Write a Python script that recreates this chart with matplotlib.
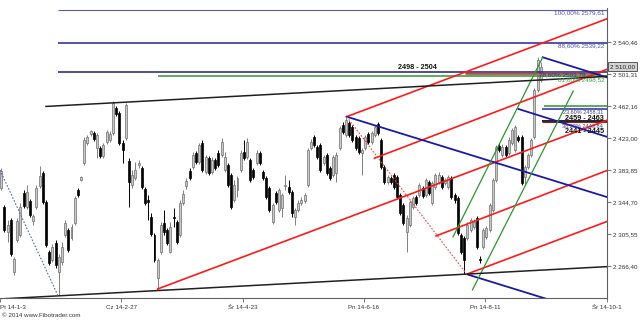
import numpy as np
import matplotlib
matplotlib.use("Agg")
import matplotlib.pyplot as plt

plt.rcParams['font.family'] = ['Liberation Sans', 'DejaVu Sans']

# WIG20 daily candles (price units)
opens = [2362, 2339, 2308, 2323, 2260, 2299, 2305, 2356, 2339, 2346, 2322, 2339, 2365, 2380, 2345, 2284, 2274, 2295, 2260, 2272,
         2305, 2311, 2301, 2319, 2360, 2372, 2393, 2417, 2428, 2429, 2411, 2411, 2401, 2418, 2421, 2429, 2460, 2454, 2417, 2423,
         2395, 2366, 2374, 2390, 2387, 2361, 2348, 2327, 2305, 2252, 2284, 2319, 2311, 2284, 2327, 2321, 2305, 2344, 2365, 2383,
         2388, 2405, 2394, 2417, 2382, 2399, 2382, 2396, 2405, 2402, 2384, 2390, 2378, 2348, 2360, 2384, 2406, 2400, 2396, 2384,
         2393, 2405, 2382, 2374, 2362, 2321, 2356, 2335, 2338, 2365, 2363, 2357, 2327, 2335, 2344, 2346, 2366, 2411, 2424, 2412,
         2415, 2393, 2402, 2387, 2378, 2380, 2411, 2439, 2427, 2441, 2437, 2424, 2423, 2405, 2411, 2428, 2418, 2427, 2440, 2421,
         2388, 2369, 2374, 2378, 2376, 2354, 2341, 2308, 2317, 2339, 2351, 2354, 2362, 2354, 2369, 2344, 2363, 2369, 2376, 2368,
         2363, 2374, 2354, 2350, 2305, 2301, 2301, 2311, 2315, 2326, 2276, 2290, 2302, 2311, 2335, 2372, 2413, 2402, 2412, 2405,
         2417, 2408, 2424, 2424, 2376, 2388, 2402, 2424, 2482, 2494]
highs = [2387, 2341, 2323, 2326, 2278, 2326, 2344, 2360, 2366, 2349, 2330, 2366, 2389, 2383, 2348, 2287, 2294, 2299, 2282, 2296,
         2323, 2313, 2318, 2352, 2362, 2377, 2424, 2427, 2433, 2432, 2429, 2413, 2417, 2433, 2432, 2468, 2462, 2456, 2421, 2466,
         2399, 2384, 2394, 2396, 2389, 2363, 2354, 2332, 2307, 2277, 2321, 2335, 2313, 2321, 2338, 2323, 2348, 2360, 2374, 2387,
         2406, 2407, 2417, 2421, 2402, 2401, 2400, 2399, 2409, 2423, 2406, 2393, 2380, 2372, 2377, 2409, 2421, 2423, 2399, 2387,
         2409, 2407, 2384, 2377, 2365, 2344, 2358, 2362, 2356, 2378, 2372, 2360, 2338, 2348, 2351, 2356, 2411, 2422, 2427, 2415,
         2417, 2402, 2405, 2389, 2402, 2406, 2438, 2443, 2449, 2444, 2439, 2427, 2426, 2411, 2427, 2431, 2432, 2439, 2443, 2423,
         2390, 2378, 2377, 2380, 2378, 2356, 2344, 2329, 2348, 2352, 2354, 2368, 2365, 2374, 2372, 2371, 2380, 2382, 2378, 2374,
         2378, 2377, 2356, 2352, 2307, 2304, 2321, 2326, 2324, 2328, 2279, 2313, 2316, 2344, 2374, 2415, 2417, 2416, 2415, 2424,
         2435, 2439, 2427, 2427, 2390, 2405, 2423, 2484, 2522, 2516]
lows = [2360, 2308, 2296, 2279, 2256, 2296, 2302, 2338, 2337, 2327, 2317, 2337, 2362, 2343, 2290, 2268, 2272, 2265, 2232, 2268,
        2302, 2284, 2299, 2317, 2351, 2371, 2390, 2415, 2426, 2420, 2399, 2399, 2399, 2416, 2418, 2427, 2450, 2415, 2393, 2421,
        2339, 2362, 2372, 2387, 2361, 2341, 2323, 2304, 2272, 2239, 2282, 2305, 2293, 2283, 2315, 2294, 2302, 2341, 2361, 2372,
        2385, 2391, 2391, 2382, 2379, 2378, 2379, 2384, 2388, 2400, 2382, 2363, 2337, 2345, 2351, 2382, 2396, 2398, 2370, 2373,
        2390, 2390, 2372, 2349, 2333, 2318, 2343, 2333, 2327, 2360, 2355, 2327, 2317, 2333, 2341, 2344, 2363, 2409, 2412, 2398,
        2382, 2390, 2378, 2372, 2376, 2369, 2409, 2428, 2424, 2424, 2418, 2408, 2404, 2378, 2408, 2416, 2416, 2424, 2427, 2385,
        2367, 2367, 2367, 2361, 2349, 2329, 2317, 2284, 2315, 2337, 2341, 2351, 2350, 2351, 2354, 2341, 2361, 2367, 2361, 2366,
        2361, 2349, 2344, 2305, 2282, 2257, 2299, 2308, 2312, 2288, 2271, 2288, 2300, 2308, 2333, 2369, 2406, 2400, 2400, 2402,
        2415, 2406, 2418, 2366, 2366, 2385, 2400, 2422, 2479, 2491]
closes = [2383, 2311, 2317, 2282, 2276, 2322, 2339, 2340, 2357, 2329, 2328, 2362, 2377, 2345, 2293, 2271, 2290, 2268, 2278, 2290,
          2319, 2287, 2315, 2350, 2354, 2376, 2421, 2424, 2432, 2422, 2427, 2401, 2415, 2431, 2428, 2466, 2452, 2417, 2409, 2463,
          2370, 2378, 2384, 2393, 2363, 2344, 2345, 2306, 2274, 2274, 2317, 2308, 2295, 2315, 2326, 2296, 2344, 2355, 2371, 2374,
          2402, 2394, 2415, 2384, 2400, 2380, 2396, 2387, 2390, 2418, 2400, 2366, 2339, 2366, 2374, 2405, 2399, 2418, 2372, 2376,
          2405, 2393, 2374, 2351, 2335, 2341, 2345, 2360, 2354, 2366, 2357, 2332, 2335, 2344, 2348, 2354, 2409, 2418, 2415, 2400,
          2384, 2400, 2380, 2374, 2400, 2402, 2435, 2431, 2445, 2427, 2421, 2411, 2406, 2408, 2424, 2418, 2429, 2437, 2429, 2388,
          2369, 2376, 2369, 2363, 2351, 2332, 2319, 2326, 2345, 2350, 2344, 2366, 2352, 2372, 2356, 2368, 2378, 2378, 2363, 2372,
          2376, 2351, 2348, 2307, 2284, 2274, 2317, 2323, 2321, 2290, 2274, 2311, 2313, 2341, 2372, 2412, 2408, 2412, 2402, 2421,
          2433, 2437, 2421, 2368, 2388, 2402, 2421, 2482, 2518, 2510]

x_labels = ["Pt 14-1-3", "Cz 14-2-27", "Śr 14-4-23", "Pn 14-6-16", "Pn 14-8-11", "Śr 14-10-1"]
x_ticks = [0, 38, 76, 114, 152, 190]
y_ticks = [2266.40, 2305.55, 2344.70, 2383.85, 2423.00, 2462.16, 2501.31, 2540.46]
last_price = 2510.00

# drawing-tool anchors: (bar, price) pairs
red_lines = [[(108.6, 2449.1), (190, 2568.3)],
             [(117.3, 2398.4), (190, 2506.7)],
             [(49.4, 2238.9), (190, 2444.5)],
             [(136.6, 2303.6), (190, 2383.2)],
             [(146.2, 2256.9), (190, 2321.0)]]
blue_lines = [[(108.6, 2449.1), (190, 2351.2)],
              [(162.4, 2458.5), (190, 2424.7)],
              [(146.2, 2256.9), (190, 2204.2)],
              [(170.0, 2521.6), (190, 2497.2)]]
green_lines = [[(141.9, 2302.4), (170.0, 2521.6)],
               [(148.0, 2237.7), (179.6, 2480.5)]]
black_lines = [[(14.4, 2461.6), (190, 2498.2)],
               [(0, 2226.7), (190, 2266.1)]]
blue_dotted = [(0, 2384.1), (18.2, 2230.4)]
red_dotted = [(108.6, 2449.1), (146.2, 2256.9)]

fib_levels = [2579.61, 2539.22, 2503.79]
fib_labels = ["100,00% 2579,61", "88,60% 2539,22", "78,60% 2503,79"]
green_level = 2498.52


def fmt(v):
    return f"{v:,.2f}".replace(",", " ").replace(".", ",")


fig = plt.figure(figsize=(6.4, 3.2), dpi=100)
ax = fig.add_axes([0, 21.7 / 320, 606.5 / 640, 290.3 / 320])
ax.set_xlim(0, 190)
ax.set_ylim(2227.5, 2581.7)

o = np.array(opens, float)
h = np.array(highs, float)
l = np.array(lows, float)
c = np.array(closes, float)
xs = np.arange(len(c)) + 0.4
up = c >= o

ax.vlines(xs[up], l[up], h[up], color="#808080", lw=0.7, zorder=2)
ax.vlines(xs[~up], l[~up], h[~up], color="black", lw=0.7, zorder=2)
body = np.maximum(np.abs(c - o), 0.8)
ax.bar(xs[up], body[up], bottom=np.minimum(o, c)[up], width=0.62,
       color="#c8c8c8", edgecolor="#707070", lw=0.5, zorder=3)
ax.bar(xs[~up], body[~up], bottom=np.minimum(o, c)[~up], width=0.62,
       color="black", edgecolor="black", lw=0.5, zorder=3)

# fibonacci horizontals
ax.hlines(fib_levels[0], 18.2, 190, color="#5a5ab0", lw=0.8, zorder=4)
ax.hlines(fib_levels[1], 18.2, 190, color="#25259a", lw=1.1, zorder=4)
ax.hlines(fib_levels[2], 18.2, 190, color="#1c1c88", lw=1.1, zorder=4)
ax.hlines(green_level, 49.5, 190, color="#2e962e", lw=1.1, zorder=4)
ax.hlines(2502.3, 145.7, 188, color="#d84040", lw=0.9, zorder=4)
ax.hlines(2500.6, 145.7, 188, color="#b07050", lw=0.9, zorder=4)

# short retracement levels at right
ax.hlines(2462.5, 170.5, 190, color="#2e962e", lw=1.1, zorder=4)
ax.hlines(2458.5, 169.7, 190, color="#2a2ab0", lw=1.1, zorder=4)
ax.hlines(2443.9, 169.7, 190, color="#101010", lw=1.3, zorder=4)
ax.hlines(2442.0, 169.7, 190, color="#8a2020", lw=0.8, zorder=4)

for seg in red_lines:
    (x0, y0), (x1, y1) = seg
    ax.plot([x0, x1], [y0, y1], color="#ff1a1a", lw=1.2, zorder=5)
for seg in blue_lines:
    (x0, y0), (x1, y1) = seg
    ax.plot([x0, x1], [y0, y1], color="#1a1aa8", lw=1.3, zorder=5)
for seg in green_lines:
    (x0, y0), (x1, y1) = seg
    ax.plot([x0, x1], [y0, y1], color="#2e962e", lw=0.9, zorder=5)
for seg in black_lines:
    (x0, y0), (x1, y1) = seg
    ax.plot([x0, x1], [y0, y1], color="#202020", lw=1.1, zorder=5)
ax.plot(*zip(*blue_dotted), color="#5a6aa8", lw=0.8, ls=(0, (1.5, 1.5)), zorder=5)
ax.plot(*zip(*red_dotted), color="#ff4040", lw=0.8, ls=(0, (1.5, 1.5)), zorder=5)

# labels
small = dict(fontsize=4.6, zorder=6)
ax.text(189.4, fib_levels[0] - 1, fib_labels[0], ha="right", va="top", color="#5050b0", **small)
ax.text(189.4, fib_levels[1] - 1, fib_labels[1], ha="right", va="top", color="#5050b0", **small)
ax.text(183.5, fib_levels[2] - 0.5, fib_labels[2], ha="right", va="top", color="#303080", **small)
ax.text(189.4, green_level - 0.8, "61,80% 2498,52", ha="right", va="top", color="#40a040", **small)
ax.text(189.0, 2457.6, "23,60% 2458,31", ha="right", va="top", color="#404080", fontsize=4.0, zorder=6)
ax.text(189.0, 2441.2, "38,20% 2443,84", ha="right", va="top", color="#404080", fontsize=4.0, zorder=6)
big = dict(fontsize=5.2, fontweight="bold", color="#151515", zorder=6)
ax.text(130.8, 2505.2, "2498 - 2504", ha="center", va="bottom", **big)
ax.text(183.2, 2446.6, "2459 - 2463", ha="center", va="center", **big)
ax.text(183.0, 2431.0, "2441 - 2445", ha="center", va="center", **big)

# axes styling
for s in ["left", "top"]:
    ax.spines[s].set_visible(False)
for s in ["right", "bottom"]:
    ax.spines[s].set_color("#606060")
    ax.spines[s].set_linewidth(0.8)
ax.yaxis.tick_right()
ax.set_yticks(y_ticks)
ax.set_yticklabels([fmt(v) for v in y_ticks])
ax.set_xticks(x_ticks)
ax.set_xticklabels(x_labels)
ax.tick_params(axis="both", length=3, width=0.6, color="#606060", labelsize=4.5, labelcolor="#333333", pad=1.5)
ax.get_xticklabels()[0].set_ha("left")

ax.annotate(fmt(last_price), xy=(1.005, last_price), xycoords=("axes fraction", "data"),
            va="center", ha="left", fontsize=4.6, color="#202020",
            bbox=dict(boxstyle="square,pad=0.3", fc="#d4d4d4", ec="#404040", lw=0.6),
            annotation_clip=False)

fig.text(0.003, 0.008, "© 2014 www.Fibotrader.com", fontsize=4.5, color="#333333")

fig.savefig("out.png", dpi=100)
